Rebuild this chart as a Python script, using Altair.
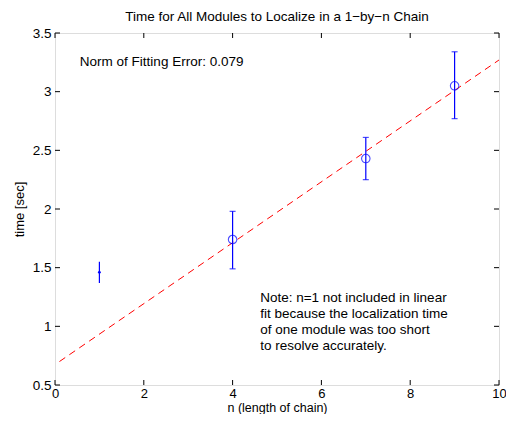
import altair as alt
import pandas as pd

# data
n_fit = [4, 7, 9]
t_fit = [1.74, 2.43, 3.05]
lo_fit = [1.49, 2.25, 2.77]
hi_fit = [1.98, 2.61, 3.34]

n_one = [1]
t_one = [1.46]
lo_one = [1.37]
hi_one = [1.55]

line_x = [0.1, 10]
line_y = [0.70, 3.27]

x_ticks = [0, 2, 4, 6, 8, 10]
y_ticks = [0.5, 1, 1.5, 2, 2.5, 3, 3.5]

note_lines = ["Note: n=1 not included in linear",
              "fit because the localization time",
              "of one module was too short",
              "to resolve accurately."]
note_y = [1.24, 1.105, 0.966, 0.83]

W, H = 444, 352
FONT = "Liberation Sans"
FS = 13.5

df_fit = pd.DataFrame({"n": n_fit, "t": t_fit, "lo": lo_fit, "hi": hi_fit})
df_one = pd.DataFrame({"n": n_one, "t": t_one, "lo": lo_one, "hi": hi_one})
df_line = pd.DataFrame({"n": line_x, "t": line_y})
df_xt = pd.DataFrame({"v": x_ticks})
df_yt = pd.DataFrame({"v": y_ticks})
df_note = pd.DataFrame({"n": [4.62] * 4, "t": note_y, "label": note_lines})
df_norm = pd.DataFrame({"n": [0.56], "t": [3.253], "label": ["Norm of Fitting Error: 0.079"]})

xs = alt.Scale(domain=[0, 10], nice=False, zero=False)
ys = alt.Scale(domain=[0.5, 3.5], nice=False, zero=False)

xaxis = alt.Axis(values=x_ticks, grid=False, ticks=False, domain=False, format="d",
                 labelFontSize=13, labelFont=FONT, labelColor="black",
                 labelPadding=2, title="n (length of chain)", titleFont=FONT,
                 titleFontSize=12.5, titleFontWeight="normal", titleColor="black",
                 titleBaseline="alphabetic", titleY=26.5, labelFlush=False)
yaxis = alt.Axis(values=y_ticks, grid=False, ticks=False, domain=False, format="~g",
                 labelFontSize=FS, labelFont=FONT, labelColor="black",
                 labelPadding=4, title="time [sec]", titleFont=FONT,
                 titleFontSize=13, titleFontWeight="normal", titleColor="black",
                 titlePadding=6, labelFlush=False)

base_x = alt.X("n:Q", scale=xs, axis=xaxis)
base_y = alt.Y("t:Q", scale=ys, axis=yaxis)

fit_line = alt.Chart(df_line).mark_line(color="#ff0000", strokeDash=[7, 5], strokeWidth=1).encode(
    x=base_x, y=base_y)

err_fit = alt.Chart(df_fit).mark_rule(color="#0000ff", strokeWidth=1.2).encode(
    x=alt.X("n:Q", scale=xs), y=alt.Y("lo:Q", scale=ys), y2="hi:Q")
cap_lo = alt.Chart(df_fit).mark_tick(color="#0000ff", orient="horizontal", size=6, thickness=1.2).encode(
    x=alt.X("n:Q", scale=xs), y=alt.Y("lo:Q", scale=ys))
cap_hi = alt.Chart(df_fit).mark_tick(color="#0000ff", orient="horizontal", size=6, thickness=1.2).encode(
    x=alt.X("n:Q", scale=xs), y=alt.Y("hi:Q", scale=ys))
pts_fit = alt.Chart(df_fit).mark_point(shape="circle", filled=False, color="#0000ff", size=72, strokeWidth=1.1).encode(
    x=alt.X("n:Q", scale=xs), y=alt.Y("t:Q", scale=ys))

err_one = alt.Chart(df_one).mark_rule(color="#0000ff", strokeWidth=1.2).encode(
    x=alt.X("n:Q", scale=xs), y=alt.Y("lo:Q", scale=ys), y2="hi:Q")
pt_one = alt.Chart(df_one).mark_point(shape="circle", filled=True, color="#0000ff", size=8, opacity=1).encode(
    x=alt.X("n:Q", scale=xs), y=alt.Y("t:Q", scale=ys))

# inward ticks
xt_bot = alt.Chart(df_xt).mark_rule(color="black", strokeWidth=1).encode(
    x=alt.X("v:Q", scale=xs), y=alt.value(H), y2=alt.value(H - 5))
xt_top = alt.Chart(df_xt).mark_rule(color="black", strokeWidth=1).encode(
    x=alt.X("v:Q", scale=xs), y=alt.value(0), y2=alt.value(5))
yt_left = alt.Chart(df_yt).mark_rule(color="black", strokeWidth=1).encode(
    y=alt.Y("v:Q", scale=ys), x=alt.value(0), x2=alt.value(5))
yt_right = alt.Chart(df_yt).mark_rule(color="black", strokeWidth=1).encode(
    y=alt.Y("v:Q", scale=ys), x=alt.value(W - 5), x2=alt.value(W))

note = alt.Chart(df_note).mark_text(align="left", baseline="middle", font=FONT, fontSize=FS, color="black").encode(
    x=alt.X("n:Q", scale=xs), y=alt.Y("t:Q", scale=ys), text="label:N")
norm = alt.Chart(df_norm).mark_text(align="left", baseline="middle", font=FONT, fontSize=FS, color="black").encode(
    x=alt.X("n:Q", scale=xs), y=alt.Y("t:Q", scale=ys), text="label:N")

chart = alt.layer(
    fit_line, err_one, pt_one, err_fit, cap_lo, cap_hi, pts_fit,
    xt_bot, xt_top, yt_left, yt_right, note, norm
).properties(
    width=W, height=H,
    title=alt.TitleParams("Time for All Modules to Localize in a 1\u2212by\u2212n Chain",
                          font=FONT, fontSize=FS, fontWeight="normal", color="black",
                          offset=3, anchor="middle"),
    autosize=alt.AutoSizeParams(type="none"),
    padding={"left": 47, "top": 25, "right": 7, "bottom": 29},
).configure_view(
    stroke="black", strokeWidth=1.5
).configure(background="white")

chart.save("out.html", embed_options={"renderer": "svg", "actions": False})
